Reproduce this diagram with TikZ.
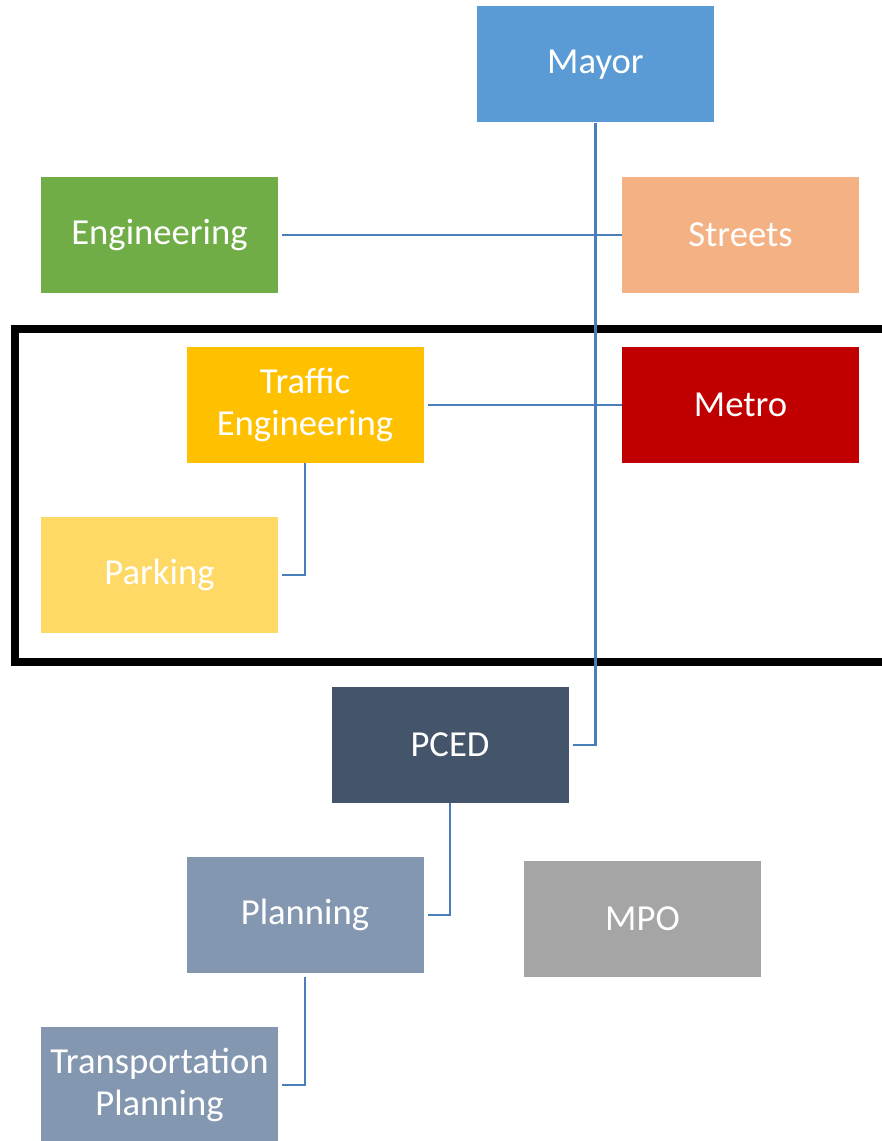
\documentclass[tikz,border=0pt]{standalone}
\usepackage{fontspec}
\setmainfont{Carlito}
\usepackage{tikz}

\definecolor{mayorblue}{HTML}{5B9BD5}
\definecolor{enggreen}{HTML}{70AD47}
\definecolor{streetorange}{HTML}{F4B183}
\definecolor{trafficgold}{HTML}{FFC000}
\definecolor{metrored}{HTML}{C00000}
\definecolor{parkyellow}{HTML}{FFD966}
\definecolor{pcedslate}{HTML}{44546A}
\definecolor{planblue}{HTML}{8497B0}
\definecolor{mpogray}{HTML}{A5A5A5}
\definecolor{linkblue}{HTML}{4A7EBB}

\begin{document}
\begin{tikzpicture}[x=0.75pt,y=-0.75pt,
	unit/.style={draw=none, text=white, minimum width=177.75pt, minimum height=87pt,
		inner sep=2pt, align=center, font=\fontsize{27.5}{31}\selectfont},
	link/.style={linkblue, line width=2pt}]
		\useasboundingbox (0,0) rectangle (881,1141);
		\draw[line width=6pt] (15,329) rectangle (900,662);
		\node[unit, fill=mayorblue] (mayor) at (595.5,64.5) {Mayor};
		\node[unit, fill=enggreen] (eng) at (159.5,235) {Engineering};
		\node[unit, fill=streetorange] (streets) at (740.5,235) {Streets};
		\node[unit, fill=trafficgold] (traffic) at (305,405) {Traffic\\Engineering};
		\node[unit, fill=metrored] (metro) at (740.5,405) {Metro};
		\node[unit, fill=parkyellow] (parking) at (159.5,575) {Parking};
		\node[unit, fill=pcedslate] (pced) at (450,745) {PCED};
		\node[unit, fill=planblue] (planning) at (305,915) {Planning};
		\node[unit, fill=mpogray] (mpo) at (642.5,919) {MPO};
		\node[unit, fill=planblue] (transport) at (159.5,1085) {Transportation\\Planning};
		\draw[link] (mayor.south) |- ([xshift=3pt]pced.east);
		\draw[link] ([xshift=3pt]eng.east) -- (streets.west);
		\draw[link] ([xshift=3pt]traffic.east) -- (metro.west);
		\draw[link] (traffic.south) |- ([xshift=3pt]parking.east);
		\draw[link] (pced.south) |- ([xshift=3pt]planning.east);
		\draw[link] ([yshift=-3pt]planning.south) |- ([xshift=3pt]transport.east);
\end{tikzpicture}
\end{document}
